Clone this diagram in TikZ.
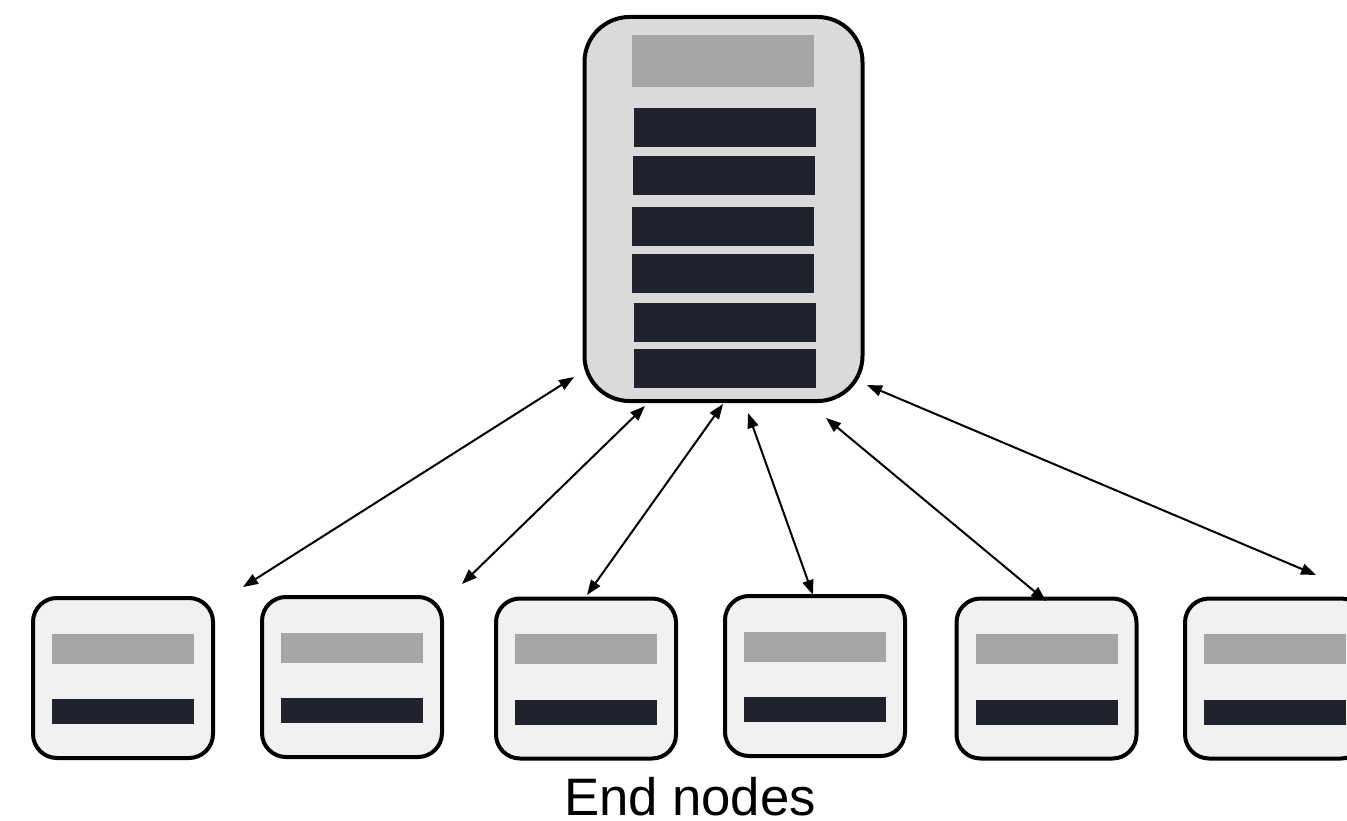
\documentclass[tikz,border=0pt]{standalone}
\usepackage{fontspec}
\setmainfont{Liberation Sans}
\usetikzlibrary{arrows.meta}
\definecolor{hubfill}{HTML}{DADADA}
\definecolor{endfill}{HTML}{F1F1F1}
\definecolor{lightbar}{HTML}{A6A6A6}
\definecolor{darkbar}{HTML}{20232D}
\tikzset{
  hubbox/.style={draw=black, line width=4pt, fill=hubfill, rounded corners=45pt, minimum width=278pt, minimum height=384pt, inner sep=0pt},
  endbox/.style={draw=black, line width=4pt, fill=endfill, rounded corners=24pt, minimum width=180pt, minimum height=160pt, inner sep=0pt},
  headbar/.style={fill=lightbar, draw=none, inner sep=0pt, minimum width=182pt, minimum height=52pt},
  rowbar/.style={fill=darkbar, draw=none, inner sep=0pt, minimum width=182pt, minimum height=39pt},
  smallhead/.style={fill=lightbar, draw=none, inner sep=0pt, minimum width=142pt, minimum height=30pt},
  smallrow/.style={fill=darkbar, draw=none, inner sep=0pt, minimum width=142pt, minimum height=25pt},
  link/.style={line width=2pt, {Triangle[length=15pt,width=11pt]}-{Triangle[length=15pt,width=11pt]}},
  caption/.style={font=\fontsize{52.7}{60}\selectfont, inner sep=0pt}
}
\begin{document}
\begin{tikzpicture}[x=1pt, y=-1pt]
\useasboundingbox (0,0) rectangle (1347,821);
\clip (0,0) rectangle (1347,821);
% hub
\node[hubbox] (hub) at (723.5,209) {};
\node[headbar] (hubhead) at (723,61) {};
\node[rowbar] (row1) at (725,127.5) {};
\node[rowbar] (row2) at (724,175.5) {};
\node[rowbar] (row3) at (723,226.5) {};
\node[rowbar] (row4) at (723,273.5) {};
\node[rowbar] (row5) at (725,322.5) {};
\node[rowbar] (row6) at (725,368.5) {};
% end nodes
\foreach \n/\x/\y in {1/123/678, 2/352/677, 3/586/678.5, 4/815/676, 5/1046.5/678.5, 6/1275/678.5}{
  \node[endbox] (end\n) at (\x,\y) {};
  \node[smallhead] (end\n head) at (\x,\y-29.5) {};
  \node[smallrow] (end\n row) at (\x,\y+33.5) {};
}
% connector end points
\coordinate (h1) at (574,377);
\coordinate (e1) at (243,587);
\coordinate (h2) at (645,406);
\coordinate (e2) at (462,584);
\coordinate (h3) at (723,404);
\coordinate (e3) at (587,595);
\coordinate (h4) at (748,413);
\coordinate (e4) at (813,595);
\coordinate (h5) at (826,418);
\coordinate (e5) at (1046,601);
\coordinate (h6) at (867,385);
\coordinate (e6) at (1316,575);
\foreach \i in {1,...,6}{
  \draw[link] (h\i) -- (e\i);
}
\node[caption] (label) at (690,797) {End nodes};
\end{tikzpicture}
\end{document}
